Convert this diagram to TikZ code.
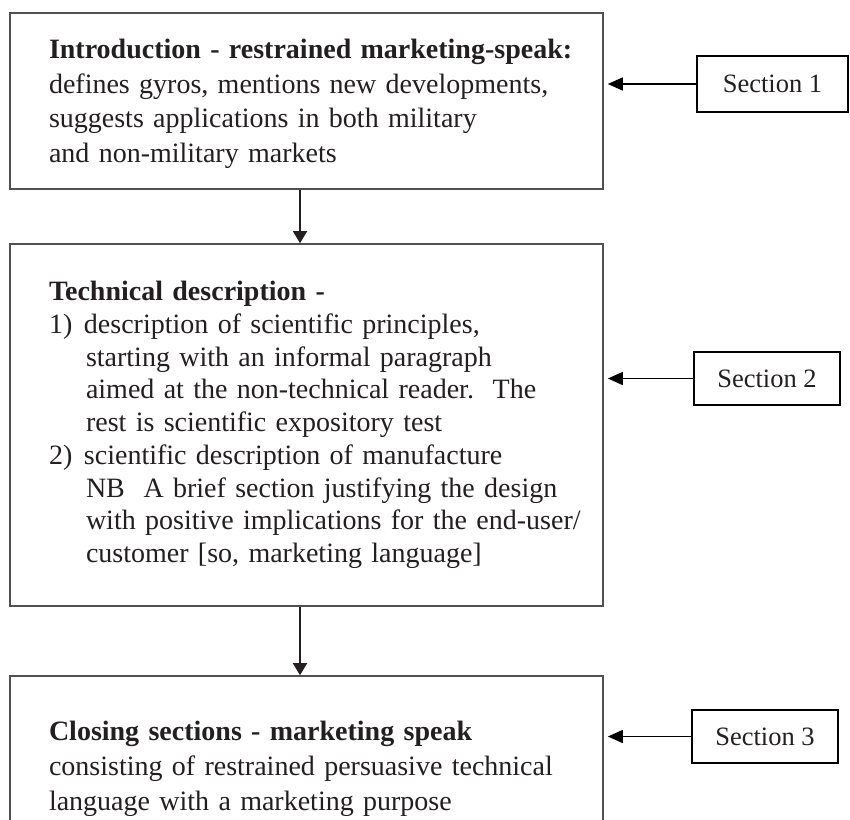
\documentclass[tikz,border=0pt]{standalone}
\usepackage{fontspec}
\setmainfont{Liberation Serif}
\usetikzlibrary{arrows.meta}
\definecolor{ink}{HTML}{231F20}
\definecolor{framegray}{HTML}{505050}
% one unbreakable line of box text
\newcommand\oneline[1]{\mbox{#1}}
\newcommand\numlab[1]{\makebox[35pt][l]{#1}}
\newcommand\contind{\hspace*{37pt}}
\tikzset{
  textbox/.style={draw=framegray, line width=1.6pt, text=ink, align=left,
    text width=515pt, inner xsep=39pt, inner ysep=0pt, minimum width=593pt,
    font=\fontsize{28}{34.5}\selectfont},
  seclabel/.style={draw=black, line width=1.8pt, text=ink, inner sep=0pt,
    font=\fontsize{26.5}{30}\selectfont},
  flow/.style={draw=ink, line width=1.4pt, -{Triangle[length=12pt,width=14pt]}},
  pointer/.style={draw=black, line width=1.5pt, -{Triangle[length=15pt,width=13pt]}, shorten >=4pt}
}
\begin{document}
\begin{tikzpicture}[x=1pt,y=-1pt]
\useasboundingbox (0,0) rectangle (850,819);
\clip (0,0) rectangle (850,819);

% main column
\node[textbox, minimum height=176pt] (b1) at (306.5,101)
  {\oneline{\rule{0pt}{25pt}\textbf{Introduction - restrained marketing-speak:}}\\
   \oneline{defines gyros, mentions new developments,}\\
   \oneline{suggests applications in both military}\\
   \oneline{and non-military markets}};

\node[textbox, minimum height=362pt, font=\fontsize{28}{32.7}\selectfont] (b2) at (306.5,425)
  {\oneline{\textbf{Technical description -}}\\
   \oneline{\numlab{1)}description of scientific principles,}\\
   \oneline{\contind starting with an informal paragraph}\\
   \oneline{\contind aimed at the non-technical reader.\ \ The}\\
   \oneline{\contind rest is scientific expository test}\\
   \oneline{\numlab{2)}scientific description of manufacture}\\
   \oneline{\contind NB\ \ A brief section justifying the design}\\
   \oneline{\contind with positive implications for the end-user/}\\
   \oneline{\contind customer [so, marketing language]}};

% last box runs past the lower edge of the page
\node[textbox, minimum height=186pt, font=\fontsize{28}{35}\selectfont] (b3) at (306.5,769)
  {\oneline{\textbf{Closing sections - marketing speak}}\\
   \oneline{consisting of restrained persuasive technical}\\
   \oneline{language with a marketing purpose}};

% section labels
\node[seclabel, minimum width=151pt, minimum height=56pt] (s1) at (772.5,84) {Section 1};
\node[seclabel, minimum width=146pt, minimum height=53pt] (s2) at (767,378.5) {Section 2};
\node[seclabel, minimum width=146pt, minimum height=53pt] (s3) at (765,736.5) {Section 3};

% flow between the boxes
\draw[flow] ([xshift=-6.5pt]b1.south) -- ([xshift=-6.5pt]b2.north);
\draw[flow] ([xshift=-6.5pt]b2.south) -- ([xshift=-6.5pt]b3.north);

% pointers from the labels
\draw[pointer] (s1.west) -- (s1.west -| b1.east);
\draw[pointer] (s2.west) -- (s2.west -| b2.east);
\draw[pointer] (s3.west) -- (s3.west -| b3.east);
\end{tikzpicture}
\end{document}
